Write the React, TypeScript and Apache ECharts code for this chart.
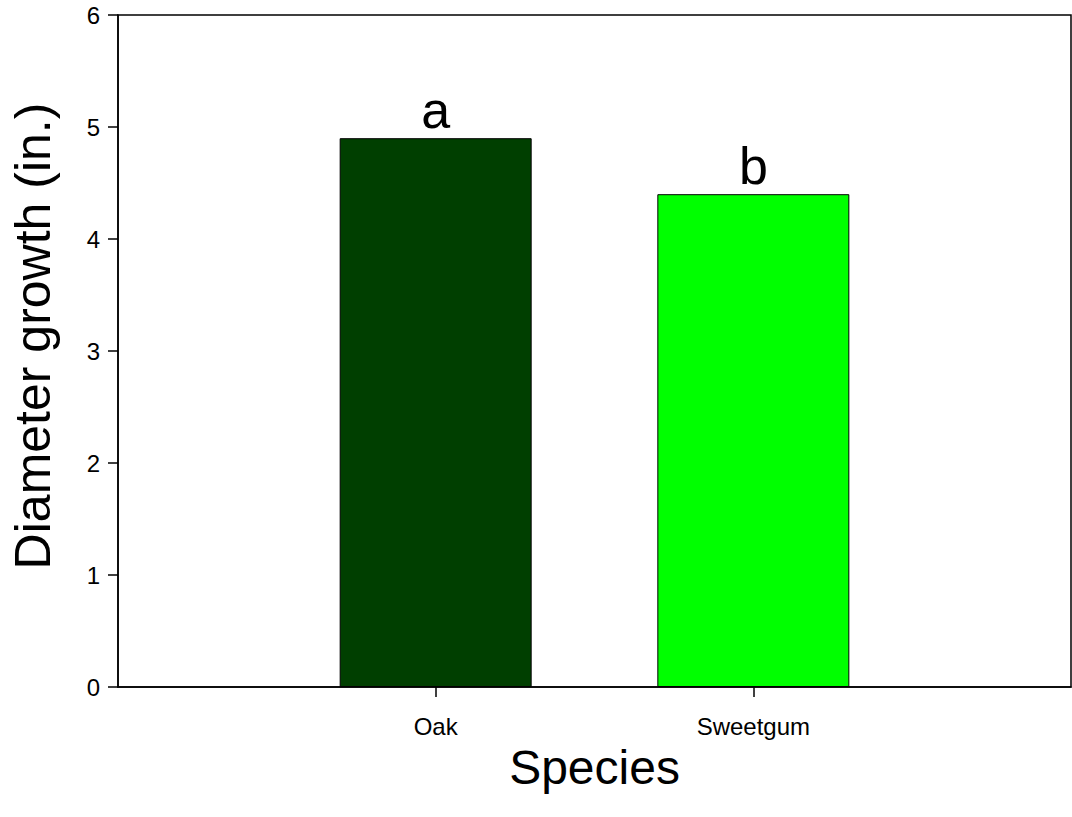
import React, { useEffect, useRef } from "react";
import * as echarts from "echarts";

const categories = ["Oak", "Sweetgum"];
const positions = [1, 2];
const values = [4.9, 4.4];
const letters = ["a", "b"];
const colors = ["#003f00", "#00ff00"];
const yTicks = [0, 1, 2, 3, 4, 5, 6];

export default function App() {
  const ref = useRef<HTMLDivElement>(null);
  useEffect(() => {
    const chart = echarts.init(ref.current!, null, { renderer: "svg" });
    const font = "Liberation Sans, Arial, sans-serif";
    chart.setOption({
      animation: false,
      backgroundColor: "#ffffff",
      grid: {
        left: 112,
        right: 1,
        top: 15,
        bottom: 130,
        show: true,
        borderColor: "#000",
        borderWidth: 1.5,
        containLabel: false,
      },
      xAxis: {
        type: "value",
        min: 0,
        max: 3,
        interval: 1,
        name: "Species",
        nameLocation: "middle",
        nameGap: 56,
        nameTextStyle: { fontSize: 48, color: "#000", fontFamily: font },
        splitLine: { show: false },
        axisLine: { show: true, lineStyle: { color: "#000", width: 1.5 } },
        axisTick: {
          show: true,
          length: 10,
          customValues: positions,
          lineStyle: { color: "#000", width: 1.5 },
        },
        axisLabel: {
          customValues: positions,
          fontSize: 24,
          color: "#000",
          fontFamily: font,
          margin: 27,
          formatter: (v: number) => {
            const i = positions.indexOf(v);
            return i >= 0 ? categories[i] : "";
          },
        },
      },
      yAxis: {
        type: "value",
        min: 0,
        max: 6,
        interval: 1,
        name: "Diameter growth (in.)",
        nameLocation: "middle",
        nameGap: 60,
        nameTextStyle: {
          fontSize: 50,
          color: "#000",
          fontFamily: font,
          padding: [0, 0, 0, 30],
        },
        splitLine: { show: false },
        axisLine: { show: true, lineStyle: { color: "#000", width: 1.5 } },
        axisTick: { show: true, length: 10, lineStyle: { color: "#000", width: 1.5 } },
        axisLabel: {
          customValues: yTicks,
          fontSize: 24,
          color: "#000",
          fontFamily: font,
          margin: 18,
        },
      },
      series: [
        {
          type: "bar",
          barWidth: 192,
          data: positions.map((p, i) => ({
            value: [p, values[i]],
            itemStyle: { color: colors[i], borderColor: "#000", borderWidth: 1 },
            label: {
              show: true,
              position: "top",
              distance: 2,
              formatter: letters[i],
              fontSize: 52,
              color: "#000",
              fontFamily: font,
            },
          })),
        },
      ],
    });
    return () => chart.dispose();
  }, []);
  return (
    <div
      ref={ref}
      style={{ position: "fixed", left: 0, top: 0, width: 1072, height: 817 }}
    />
  );
}
